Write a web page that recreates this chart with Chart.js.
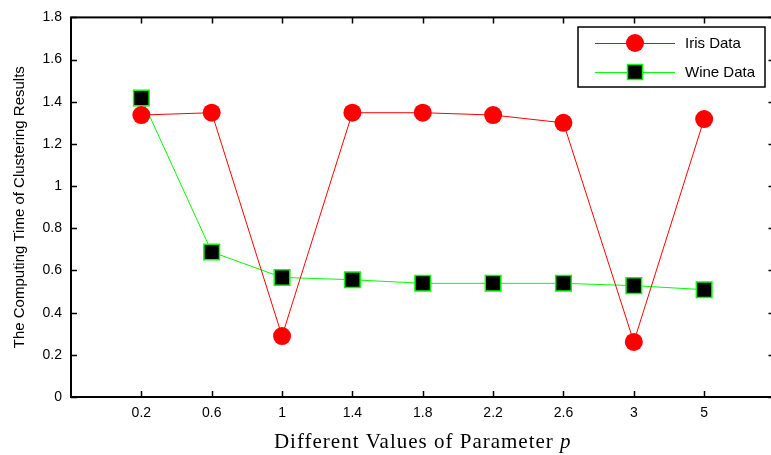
<!DOCTYPE html>
<html>
<head>
<meta charset="utf-8">
<script src="https://cdn.jsdelivr.net/npm/chart.js@4.4.0/dist/chart.umd.min.js"></script>
<style>
    html, body { margin: 0; padding: 0; background: #fff; overflow: hidden; }
    #wrap { width: 787px; height: 455px; }
</style>
</head>
<body>
<div id="wrap"><canvas id="chart" width="787" height="455"></canvas></div>
<script>
// values
const paramLabels = ["0.2", "0.6", "1", "1.4", "1.8", "2.2", "2.6", "3", "5"];
const irisTimes = [1.337, 1.348, 0.289, 1.348, 1.348, 1.337, 1.300, 0.261, 1.318];
const wineTimes = [1.418, 0.688, 0.567, 0.556, 0.539, 0.539, 0.539, 0.528, 0.509];
const yTicks = [0, 0.2, 0.4, 0.6, 0.8, 1, 1.2, 1.4, 1.6, 1.8];

const SANS = "'Liberation Sans', Arial, sans-serif";
const SERIF = "'Liberation Serif', 'Times New Roman', serif";

const toPoints = (values) => values.map((y, i) => ({ x: i, y }));

// MATLAB-style box with inward ticks, legend and the x title (with italic p)
const matlabFrame = {
    id: "matlabFrame",
    afterDraw(chart) {
        const { ctx, chartArea: a, scales } = chart;
        const tick = 6;
        ctx.save();
        ctx.strokeStyle = "#000";
        ctx.lineWidth = 2;
        ctx.strokeRect(a.left, a.top, a.right - a.left, a.bottom - a.top);
        ctx.lineWidth = 1.5;
        ctx.beginPath();
        scales.y.ticks.forEach((t) => {
            const py = Math.round(scales.y.getPixelForValue(t.value)) + 0.5;
            ctx.moveTo(a.left, py);
            ctx.lineTo(a.left + tick, py);
            ctx.moveTo(a.right, py);
            ctx.lineTo(a.right - tick, py);
        });
        scales.x.ticks.forEach((t) => {
            const px = Math.round(scales.x.getPixelForValue(t.value)) + 0.5;
            ctx.moveTo(px, a.bottom);
            ctx.lineTo(px, a.bottom - tick);
            ctx.moveTo(px, a.top);
            ctx.lineTo(px, a.top + tick);
        });
        ctx.stroke();

        // legend
        const lx = 578, ly = 27, lw = 187, lh = 60;
        ctx.fillStyle = "#fff";
        ctx.fillRect(lx, ly, lw, lh);
        ctx.lineWidth = 1.5;
        ctx.strokeStyle = "#000";
        ctx.strokeRect(lx, ly, lw, lh);
        const rows = [
            { label: "Iris Data", y: 43, ds: chart.data.datasets[0], shape: "circle" },
            { label: "Wine Data", y: 72, ds: chart.data.datasets[1], shape: "rect" },
        ];
        rows.forEach((r) => {
            ctx.strokeStyle = r.ds.borderColor;
            ctx.lineWidth = 1;
            ctx.beginPath();
            ctx.moveTo(595, r.y + 0.5);
            ctx.lineTo(675, r.y + 0.5);
            ctx.stroke();
            ctx.fillStyle = r.ds.pointBackgroundColor;
            if (r.shape === "circle") {
                ctx.beginPath();
                ctx.arc(635, r.y, 9, 0, Math.PI * 2);
                ctx.fill();
            } else {
                ctx.fillRect(627.5, r.y - 7.5, 15, 15);
                ctx.strokeStyle = r.ds.pointBorderColor;
                ctx.lineWidth = 1.5;
                ctx.strokeRect(627.5, r.y - 7.5, 15, 15);
            }
            ctx.fillStyle = "#000";
            ctx.font = "15px " + SANS;
            ctx.textAlign = "left";
            ctx.textBaseline = "middle";
            ctx.fillText(r.label, 685, r.y + 1);
        });

        // x title, MATLAB draws it a little spaced out
        const main = "Different Values of Parameter ";
        ctx.letterSpacing = "1px";
        ctx.font = "21px " + SERIF;
        const w1 = ctx.measureText(main).width;
        ctx.font = "italic 21px " + SERIF;
        const w2 = ctx.measureText("p").width;
        const cx = (a.left + a.right) / 2;
        const x0 = cx - (w1 + w2) / 2;
        ctx.textAlign = "left";
        ctx.textBaseline = "alphabetic";
        ctx.fillStyle = "#000";
        ctx.font = "21px " + SERIF;
        ctx.fillText(main, x0, 448);
        ctx.font = "italic 21px " + SERIF;
        ctx.fillText("p", x0 + w1, 448);
        ctx.restore();
    },
};

new Chart(document.getElementById("chart"), {
    type: "line",
    data: {
        datasets: [
            {
                label: "Iris Data",
                data: toPoints(irisTimes),
                borderColor: "#ff0000",
                borderWidth: 1,
                pointStyle: "circle",
                pointRadius: 9,
                pointBackgroundColor: "#ff0000",
                pointBorderColor: "#ff0000",
                pointBorderWidth: 0,
                tension: 0,
            },
            {
                label: "Wine Data",
                data: toPoints(wineTimes),
                borderColor: "#00ff00",
                borderWidth: 1,
                pointStyle: "rect",
                pointRadius: 11,
                pointBackgroundColor: "#000000",
                pointBorderColor: "#00ff00",
                pointBorderWidth: 1.5,
                tension: 0,
            },
        ],
    },
    options: {
        responsive: false,
        animation: false,
        devicePixelRatio: 1,
        layout: { padding: { top: 15, right: 6, left: 0, bottom: 0 } },
        plugins: {
            legend: { display: false },
            tooltip: { enabled: false },
        },
        scales: {
            x: {
                type: "linear",
                min: -1,
                max: 9,
                grid: { display: false, drawTicks: false },
                border: { display: false },
                afterBuildTicks: (scale) => {
                    scale.ticks = paramLabels.map((_, i) => ({ value: i }));
                },
                afterFit: (scale) => {
                    scale.height = 58;
                },
                ticks: {
                    padding: 8,
                    color: "#000",
                    font: { family: SANS, size: 14 },
                    maxRotation: 0,
                    autoSkip: false,
                    callback: (v) => paramLabels[v] ?? "",
                },
            },
            y: {
                min: 0,
                max: 1.8,
                grid: { display: false, drawTicks: false },
                border: { display: false },
                afterBuildTicks: (scale) => {
                    scale.ticks = yTicks.map((v) => ({ value: v }));
                },
                afterFit: (scale) => {
                    scale.width = 71;
                },
                ticks: {
                    padding: 9,
                    color: "#000",
                    font: { family: SANS, size: 14 },
                    callback: (v) => String(+v.toFixed(1)),
                },
                title: {
                    display: true,
                    text: "The Computing Time of Clustering Results",
                    color: "#000",
                    font: { family: SANS, size: 15 },
                    padding: { top: 11, bottom: 0 },
                },
            },
        },
    },
    plugins: [matlabFrame],
});
</script>
</body>
</html>
